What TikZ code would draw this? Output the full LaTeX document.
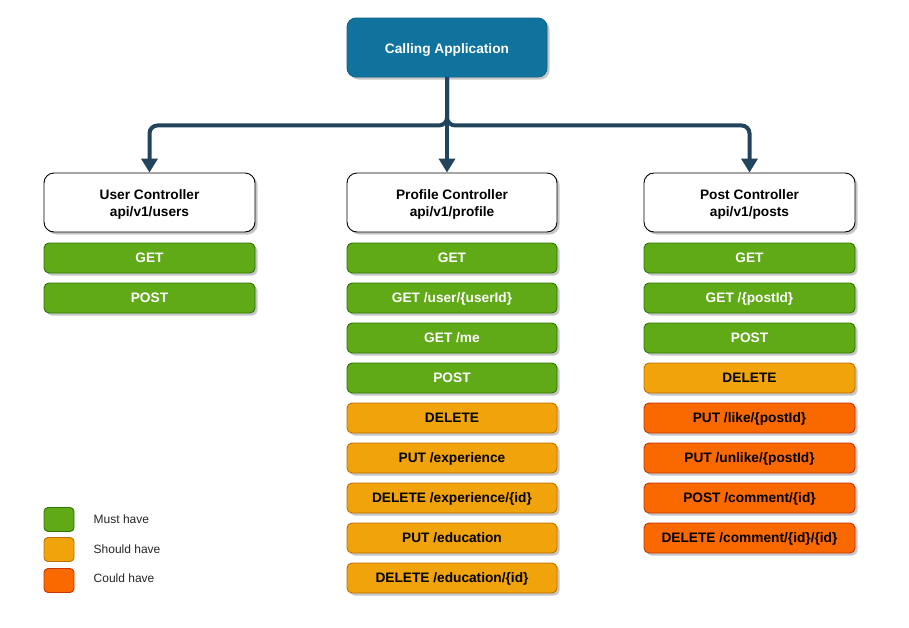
\documentclass[tikz,border=0pt]{standalone}
\usepackage{fontspec}
\setmainfont{Liberation Sans}
\usetikzlibrary{arrows.meta,shadows}
\definecolor{mustF}{HTML}{60A917}
\definecolor{mustD}{HTML}{2D7600}
\definecolor{shouldF}{HTML}{F0A30A}
\definecolor{shouldD}{HTML}{BD7000}
\definecolor{couldF}{HTML}{FA6800}
\definecolor{couldD}{HTML}{C73500}
\definecolor{appF}{HTML}{10739E}
\definecolor{appD}{HTML}{0E6488}
\definecolor{connC}{HTML}{23445D}
\tikzset{
  shad/.style={drop shadow={shadow xshift=2.5pt, shadow yshift=-2.5pt, opacity=0.22, fill=black}},
  bfont/.style={font=\fontsize{13.7}{15.5}\selectfont\bfseries},
  ctrl/.style={shad, font=\fontsize{13.7}{16.8}\selectfont\bfseries, draw=black, fill=white, line width=0.9pt, rounded corners=10pt,
    minimum width=211pt, minimum height=59pt, inner sep=0pt, align=center,
    text height=28pt, text depth=0pt},
  meth/.style={shad, bfont, line width=0.9pt, rounded corners=5pt,
    minimum width=211pt, minimum height=30pt, inner sep=0pt, text height=9.8pt, text depth=0pt},
  must/.style={meth, fill=mustF, draw=mustD, text=white},
  should/.style={meth, fill=shouldF, draw=shouldD, text=black},
  could/.style={meth, fill=couldF, draw=couldD, text=black},
  legbox/.style={line width=0.9pt, rounded corners=4pt, minimum width=30pt, minimum height=24pt, inner sep=0pt},
  legtext/.style={anchor=west, font=\fontsize{12}{14}\selectfont, inner sep=0pt, text=black!85},
  conn/.style={draw=connC, line width=4pt, rounded corners=8pt, -{Triangle[width=16pt,length=14pt]}}
}
\begin{document}
\begin{tikzpicture}[x=1pt,y=-1pt]
\useasboundingbox[fill=white] (0,0) rectangle (909,627);

\node[shad, bfont, fill=appF, draw=appD, line width=0.9pt, rounded corners=9pt, text=white,
  minimum width=200pt, minimum height=59pt, inner sep=0pt, text height=12.4pt, text depth=0pt] (app) at (447,47.5) {Calling Application};

\node[ctrl] (user) at (149.5,202.5) {User Controller\\api/v1/users};
\node[ctrl, minimum width=210pt] (prof) at (452,202.5) {Profile Controller\\api/v1/profile};
\node[ctrl] (post) at (749.5,202.5) {Post Controller\\api/v1/posts};

\draw[conn] (app.south) -- ++(0,48) -| (user.north);
\draw[conn] (app.south) -- ++(0,48) -| (post.north);
\draw[conn] (app.south) -- (app.south |- prof.north);

% User controller
\node[must] (u1) at (149.5,258) {GET};
\node[must] (u2) at (149.5,298) {POST};

% Profile controller
\node[must, minimum width=210pt] (p1) at (452,258) {GET};
\node[must, minimum width=210pt] (p2) at (452,298) {GET /user/\{userId\}};
\node[must, minimum width=210pt] (p3) at (452,338) {GET /me};
\node[must, minimum width=210pt] (p4) at (452,378) {POST};
\node[should, minimum width=210pt] (p5) at (452,418) {DELETE};
\node[should, minimum width=210pt] (p6) at (452,458) {PUT /experience};
\node[should, minimum width=210pt] (p7) at (452,498) {DELETE /experience/\{id\}};
\node[should, minimum width=210pt] (p8) at (452,538) {PUT /education};
\node[should, minimum width=210pt] (p9) at (452,578) {DELETE /education/\{id\}};

% Post controller
\node[must] (q1) at (749.5,258) {GET};
\node[must] (q2) at (749.5,298) {GET /\{postId\}};
\node[must] (q3) at (749.5,338) {POST};
\node[should] (q4) at (749.5,378) {DELETE};
\node[could] (q5) at (749.5,418) {PUT /like/\{postId\}};
\node[could] (q6) at (749.5,458) {PUT /unlike/\{postId\}};
\node[could] (q7) at (749.5,498) {POST /comment/\{id\}};
\node[could] (q8) at (749.5,538) {DELETE /comment/\{id\}/\{id\}};

% Legend
\node[legbox, fill=mustF, draw=mustD] (l1) at (59,519.5) {};
\node[legbox, fill=shouldF, draw=shouldD] (l2) at (59,549.5) {};
\node[legbox, fill=couldF, draw=couldD] (l3) at (59,580.5) {};
\node[legtext] (t1) at (93.5,519) {Must have};
\node[legtext] (t2) at (93.5,549) {Should have};
\node[legtext] (t3) at (93.5,578.5) {Could have};
\end{tikzpicture}
\end{document}
